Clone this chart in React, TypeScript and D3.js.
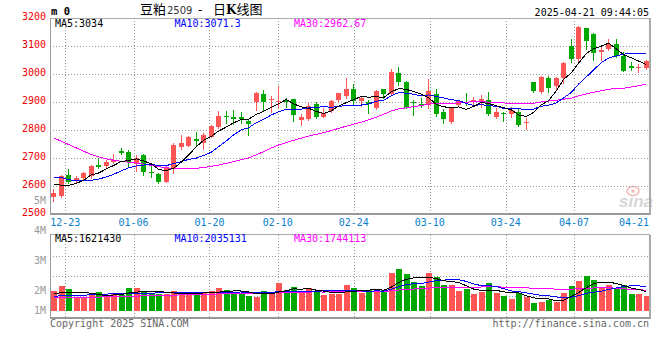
import React from "react";
import * as d3 from "d3";

const opens = [2562,2565,2639,2618,2627,2636,2675,2671,2687,2725,2722,2678,2711,2651,2642,2616,2663,2741,2743,2767,2752,2776,2812,2851,2847,2847,2833,2899,2929,2906,2899,2907,2911,2837,2839,2893,2848,2869,2907,2921,2946,2904,2899,2880,2946,2929,3002,2973,2899,2893,2889,2927,2865,2827,2889,2901,2899,2904,2907,2848,2862,2856,2865,2824,2970,2937,2987,2958,2985,3100,3052,3163,3143,3077,3088,3107,3065,3030,3023,3020];
const highs = [2589,2638,2661,2634,2651,2675,2699,2693,2713,2734,2728,2712,2716,2675,2645,2671,2752,2783,2777,2794,2788,2818,2868,2868,2871,2866,2837,2936,2943,2921,2956,2915,2912,2856,2895,2899,2877,2907,2932,2987,2964,2921,2907,2943,2947,3018,3024,2975,2907,2915,2982,2946,2874,2881,2907,2931,2919,2925,2935,2880,2866,2881,2874,2842,2973,2994,2993,2990,3044,3124,3173,3165,3148,3098,3124,3125,3080,3042,3036,3050];
const lows = [2546,2562,2609,2612,2621,2630,2663,2668,2681,2713,2670,2652,2638,2633,2612,2614,2646,2733,2742,2743,2731,2774,2806,2824,2821,2824,2782,2871,2873,2866,2883,2882,2832,2818,2836,2842,2846,2863,2899,2916,2889,2887,2862,2875,2913,2925,2961,2879,2854,2883,2880,2851,2824,2824,2887,2889,2887,2883,2854,2844,2832,2848,2815,2804,2935,2933,2937,2943,2967,3042,3048,3088,3050,3050,3086,3062,3011,3014,3006,3017];
const closes = [2576,2635,2616,2630,2647,2671,2669,2687,2694,2717,2687,2699,2649,2645,2616,2663,2746,2754,2776,2761,2782,2814,2850,2845,2838,2840,2822,2933,2900,2911,2902,2899,2854,2846,2886,2848,2859,2904,2931,2946,2904,2913,2893,2939,2929,3006,2973,2880,2896,2886,2939,2856,2838,2877,2903,2895,2907,2911,2856,2865,2858,2871,2818,2830,2939,2990,2951,2987,3040,3052,3167,3119,3074,3086,3106,3065,3012,3021,3026,3046];
const volumes = [1650000,2070000,1818000,1119000,1119000,1315000,1566000,1231000,1510000,1315000,1902000,1902000,1650000,1455000,1399000,1399000,1650000,1566000,1371000,1455000,1510000,1650000,1902000,1734000,1594000,1510000,1259000,1175000,1650000,1566000,2350000,1734000,1986000,1510000,1902000,1594000,1343000,1455000,1455000,2154000,1902000,1510000,1734000,1818000,1734000,3189000,3497000,3077000,2406000,2070000,3189000,2825000,2154000,2154000,1650000,1818000,1399000,1594000,2322000,1510000,1231000,979000,1538000,1147000,643000,755000,951000,783000,1483000,2070000,2490000,2937000,2573000,1930000,2182000,1902000,2154000,1399000,1427000,1259000];

const ma5Head = [2606, 2603, 2602, 2609];
const ma10Head = [2631, 2631, 2622, 2620, 2619, 2620, 2625, 2632, 2642];
const ma30Head = [2772, 2760, 2748, 2736, 2724, 2713, 2704, 2697, 2692, 2688, 2685, 2682, 2678, 2674, 2669, 2665, 2663, 2662, 2662, 2663, 2666, 2670, 2675, 2681, 2687, 2694, 2701, 2711, 2723];
const volMa5Head = [1450000, 1540000, 1570000, 1510000];
const volMa10Head = [1240000, 1270000, 1300000, 1310000, 1330000, 1360000, 1390000, 1420000, 1450000];
const volMa30Head = [1100000, 1110000, 1120000, 1140000, 1150000, 1160000, 1170000, 1190000, 1200000, 1210000, 1230000, 1250000, 1270000, 1280000, 1300000, 1310000, 1330000, 1350000, 1360000, 1380000, 1400000, 1410000, 1430000, 1450000, 1460000, 1470000, 1480000, 1500000, 1520000];

const priceTicks = [3200, 3100, 3000, 2900, 2800, 2700, 2600, 2500];
const dateTickIdx = [2, 11, 21, 30, 40, 50, 60, 69, 79];
const dateTickLabels = ["12-23", "01-06", "01-20", "02-10", "02-24", "03-10", "03-24", "04-07", "04-21"];
const volTickValues = [5, 4, 3, 2, 1];
const volTickLabels = ["5M", "4M", "3M", "2M", "1M"];

const mainLegend = ["MA5:3034", "MA10:3071.3", "MA30:2962.67"];
const volLegend = ["MA5:1621430", "MA10:2035131", "MA30:1744113"];
const legendColors = ["#000000", "#0000ff", "#ff00ff"];

const RED = "#ff5555";
const GREEN = "#00a800";
const MONO = "'DejaVu Sans Mono', monospace";

function movingAvg(values: number[], n: number, head: number[]) {
  return values.map((v, i) => (i < head.length ? head[i] : (d3.mean(values.slice(i - n + 1, i + 1)) as number)));
}

export default function App() {
  const n = closes.length;
  const L = 50, R = 650;
  const x = d3.scaleBand<number>().domain(d3.range(n)).range([L, R]);
  const cx = (i: number) => (x(i) as number) + x.bandwidth() / 2;
  const gx = d3.scaleLinear().domain([0, n - 1]).range([L, R]);
  const y = d3.scaleLinear().domain([2500, 3200]).range([214, 18]);
  const yv = d3.scaleLinear().domain([0, 1000000]).range([311, 311 - 11.92]);
  const yLab = d3.scaleLinear().domain([0, 5]).range([350.5, 200.5]);
  const volTop = 234.5, volBottom = 318;
  const volGrid = d3.scaleLinear().domain([0, 4]).range([235.5, 315.5]);

  const ma5 = movingAvg(closes, 5, ma5Head);
  const ma10 = movingAvg(closes, 10, ma10Head);
  const ma30 = movingAvg(closes, 30, ma30Head);
  const vma5 = movingAvg(volumes, 5, volMa5Head);
  const vma10 = movingAvg(volumes, 10, volMa10Head);
  const vma30 = movingAvg(volumes, 30, volMa30Head);

  const line = d3.line<number>().x((_, i) => cx(i)).y((v) => y(v));
  const vline = d3.line<number>().x((_, i) => cx(i)).y((v) => yv(v));

  return (
    <div style={{ position: "fixed", left: 0, top: 0 }}>
      <svg width={660} height={360} style={{ display: "block", background: "#fff" }}>
        {/* watermark */}
        <g opacity={0.9}>
          <ellipse cx={633} cy={191} rx={6} ry={4.5} fill="none" stroke="#f3b3b3" strokeWidth={1.6} />
          <circle cx={633} cy={191} r={1.8} fill="#f3b3b3" />
          <text x={619} y={207} fontFamily="'Liberation Sans', Arial, sans-serif" fontSize={17} fontWeight="bold" fontStyle="italic" fill="#d2d2d2">sina</text>
        </g>

        {/* horizontal price grid */}
        {priceTicks.map((p, k) => (
          <line key={"hg" + p} x1={L} x2={R} y1={y(p) + 0.5} y2={y(p) + 0.5}
            stroke={k === 0 ? "#aaaaaa" : "#999999"} strokeDasharray={k === 0 ? undefined : "1 2"} shapeRendering="crispEdges" />
        ))}
        {/* vertical grid */}
        {dateTickIdx.slice(0, -1).map((d) => (
          <g key={"vg" + d}>
            <line x1={Math.round(gx(d)) + 0.5} x2={Math.round(gx(d)) + 0.5} y1={18} y2={214} stroke="#999" strokeDasharray="1 2" shapeRendering="crispEdges" />
            <line x1={Math.round(gx(d)) + 0.5} x2={Math.round(gx(d)) + 0.5} y1={volTop} y2={volBottom} stroke="#999" strokeDasharray="1 2" shapeRendering="crispEdges" />
          </g>
        ))}
        {/* volume grid */}
        {[1, 2, 3].map((k) => (
          <line key={"vgr" + k} x1={L} x2={R} y1={Math.round(volGrid(k)) + 0.5} y2={Math.round(volGrid(k)) + 0.5} stroke="#999" strokeDasharray="1 2" shapeRendering="crispEdges" />
        ))}
        <line x1={L} x2={R} y1={volTop} y2={volTop} stroke="#aaaaaa" shapeRendering="crispEdges" />

        {/* candles */}
        {closes.map((c, i) => {
          const o = opens[i];
          const up = c >= o;
          const col = up ? RED : GREEN;
          const cc = Math.floor(cx(i));
          const top = Math.round(y(Math.max(o, c)));
          const bot = Math.round(y(Math.min(o, c)));
          return (
            <g key={"c" + i} shapeRendering="crispEdges">
              <line x1={cc + 0.5} x2={cc + 0.5} y1={Math.round(y(highs[i]))} y2={Math.round(y(lows[i])) + 1} stroke={col} />
              <rect x={cc - 2} y={top} width={5} height={Math.max(1, bot - top)} fill={col} />
            </g>
          );
        })}
        {/* volume bars */}
        {volumes.map((v, i) => {
          const up = closes[i] >= opens[i];
          const cc = Math.floor(cx(i));
          const t = Math.round(yv(v));
          return <rect key={"v" + i} x={cc - 2.5} y={t} width={6} height={yv(0) - t} fill={up ? RED : GREEN} shapeRendering="crispEdges" />;
        })}

        {/* MA lines */}
        <g fill="none" strokeWidth={1} shapeRendering="crispEdges">
          <path d={line(ma30) as string} stroke="#ff00ff" />
          <path d={line(ma10) as string} stroke="#0000ff" />
          <path d={line(ma5) as string} stroke="#000000" />
          <path d={vline(vma30) as string} stroke="#ff00ff" />
          <path d={vline(vma10) as string} stroke="#0000ff" />
          <path d={vline(vma5) as string} stroke="#000000" />
        </g>

        {/* axes / borders */}
        <g shapeRendering="crispEdges">
          <line x1={L + 0.5} x2={L + 0.5} y1={18} y2={215} stroke="#999" />
          <line x1={L} x2={R + 1} y1={214} y2={214} stroke="#999" strokeWidth={2} />
          <line x1={R} x2={R} y1={18} y2={215} stroke="#aaa" strokeWidth={2} />
          <line x1={L + 0.5} x2={L + 0.5} y1={volTop} y2={volBottom + 1} stroke="#999" />
          <line x1={L} x2={R + 1} y1={volBottom} y2={volBottom} stroke="#999" strokeWidth={2} />
          <line x1={R} x2={R} y1={volTop} y2={volBottom} stroke="#aaa" strokeWidth={2} />
        </g>

        {/* price labels */}
        {priceTicks.map((p) => (
          <text key={"pl" + p} x={46} y={y(p) + 2.3} textAnchor="end" fontFamily={MONO} fontSize={10} fill="#ee0000">{p}</text>
        ))}
        {/* volume labels */}
        {volTickValues.map((v, k) => (
          <text key={"vl" + v} x={46} y={Math.min(yLab(v), 310.5) + 3.6} textAnchor="end" fontFamily={MONO} fontSize={10} fill="#999">{volTickLabels[k]}</text>
        ))}
        {/* date labels */}
        {dateTickIdx.map((d, k) => {
          const gxv = gx(d);
          const last = gxv + 15 > R;
          return (
            <text key={"dl" + d} x={last ? R - 1 : gxv} y={226} textAnchor={last ? "end" : "middle"} fontFamily={MONO} fontSize={10} fill="#0a80cc">{dateTickLabels[k]}</text>
          );
        })}

        {/* legends */}
        {mainLegend.map((t, k) => (
          <text key={"ml" + k} x={55 + k * 119.5} y={27} fontFamily={MONO} fontSize={10} fill={legendColors[k]}>{t}</text>
        ))}
        {volLegend.map((t, k) => (
          <text key={"vleg" + k} x={55 + k * 119.5} y={242} fontFamily={MONO} fontSize={10} fill={legendColors[k]}>{t}</text>
        ))}

        {/* header */}
        <text x={51} y={15} fontFamily={MONO} fontSize={10.5} fontWeight="bold" fill="#000">m 0</text>
        <text x={140} y={14} fontFamily="'Noto Sans CJK SC', sans-serif" fontSize={13} fill="#000">豆粕</text>
        <text x={167} y={14} fontFamily="'DejaVu Sans', sans-serif" fontSize={10} fill="#333">2509</text>
        <text x={198} y={14} fontFamily="'DejaVu Sans', sans-serif" fontSize={12} fill="#000">-</text>
        <text x={213} y={14} fontFamily="'Noto Sans CJK SC', sans-serif" fontSize={13} fill="#000">
          日<tspan fontWeight="bold" fontFamily="'DejaVu Serif', serif" fontSize={12}>K</tspan>线图
        </text>
        <text x={649} y={15.5} textAnchor="end" fontFamily={MONO} fontSize={10} fill="#000">2025-04-21 09:44:05</text>

        {/* footer */}
        <text x={50} y={327} fontFamily={MONO} fontSize={10} fill="#666">Copyright 2025 SINA.COM</text>
        <text x={649} y={327} textAnchor="end" fontFamily={MONO} fontSize={10} fill="#666">http://finance.sina.com.cn</text>
      </svg>
    </div>
  );
}
